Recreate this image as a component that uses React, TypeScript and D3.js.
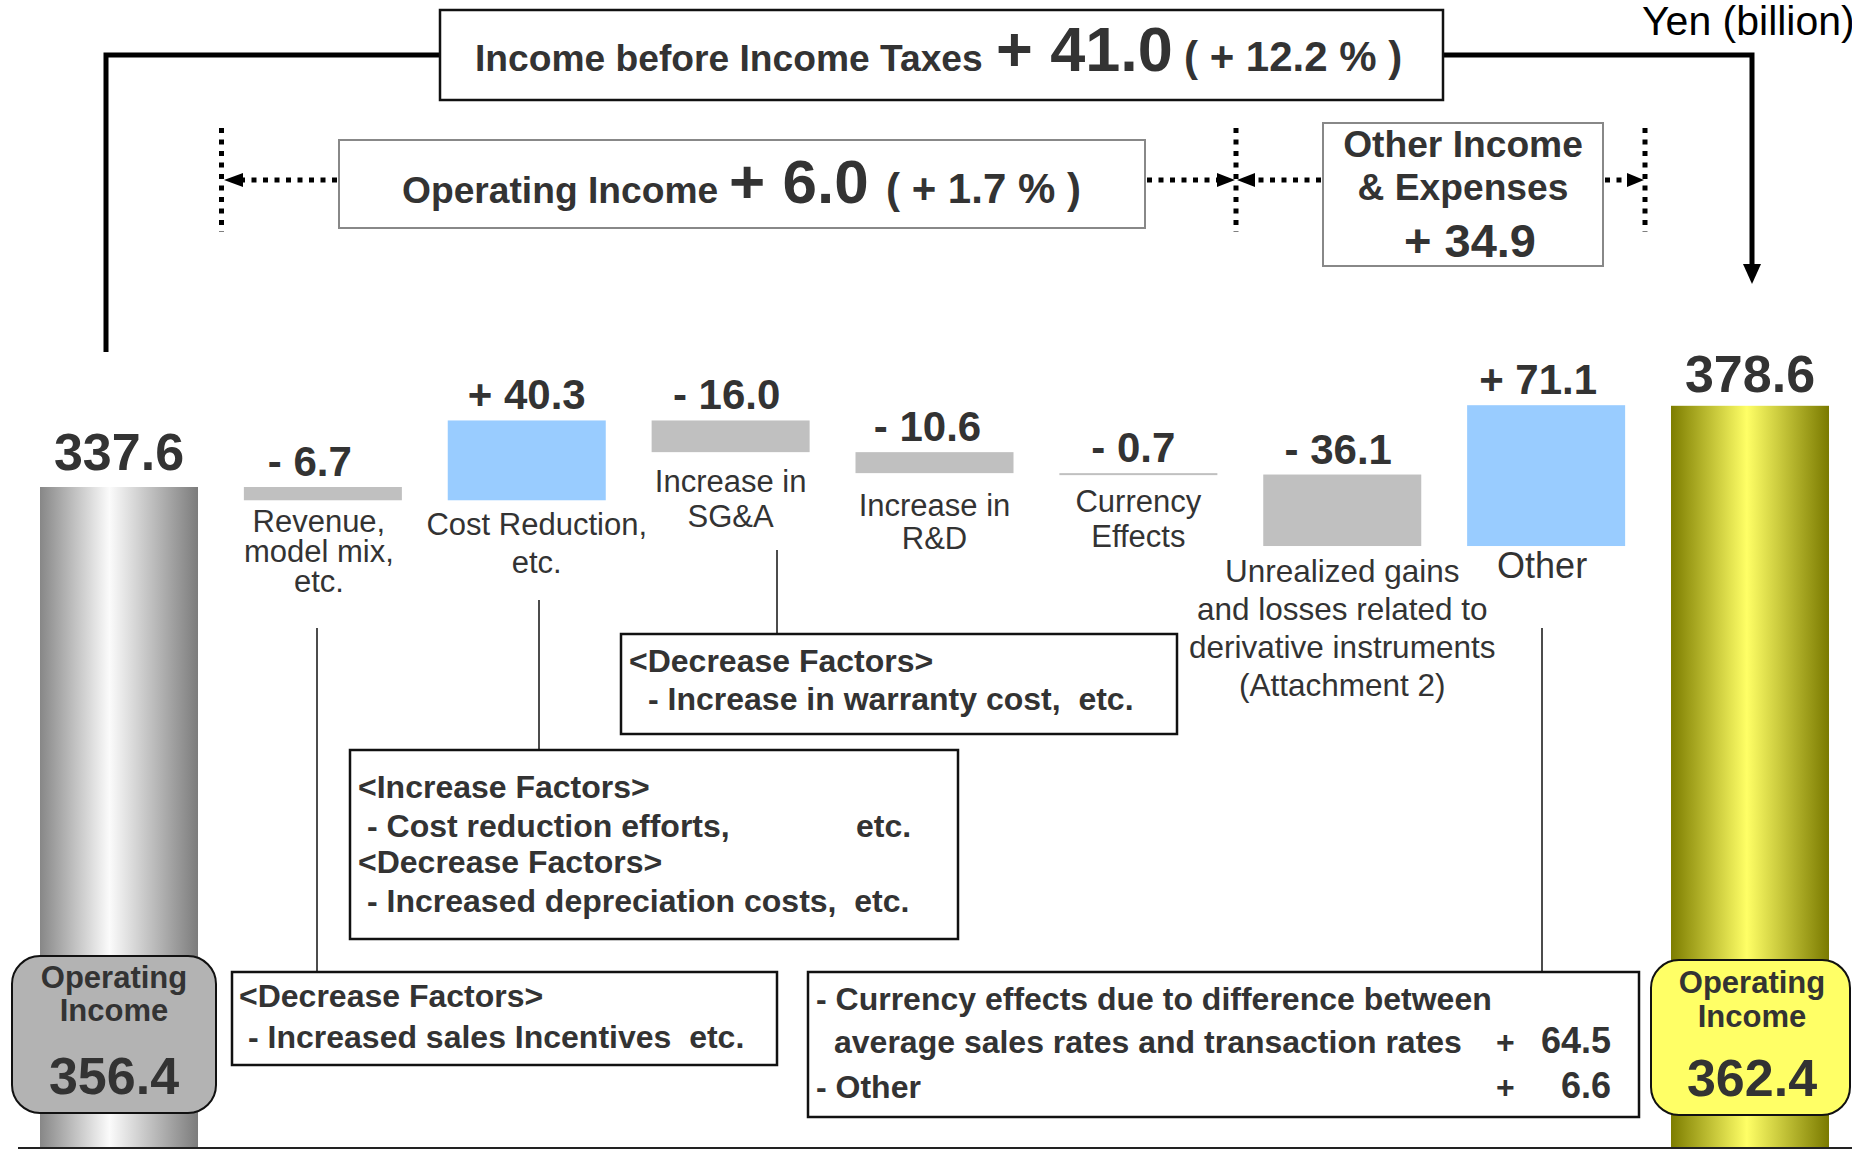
import React from "react";
import * as d3 from "d3";

// values in Yen (billion)
const startValue = 337.6;
const endValue = 378.6;
const changes = [-6.7, 40.3, -16.0, -10.6, -0.7, -36.1, 71.1];
const changeLabels = ["- 6.7", "+ 40.3", "- 16.0", "- 10.6", "- 0.7", "- 36.1", "+ 71.1"];
const categoryLines = [
  ["Revenue,", "model mix,", "etc."],
  ["Cost Reduction,", "etc."],
  ["Increase in", "SG&A"],
  ["Increase in", "R&D"],
  ["Currency", "Effects"],
  ["Unrealized gains", "and losses related to", "derivative instruments", "(Attachment 2)"],
  ["Other"],
];
const startBoxValue = "356.4";
const endBoxValue = "362.4";
const otherBreakdown = [
  { text: ["- Currency effects due to difference between", "average sales rates and transaction rates"], value: "64.5" },
  { text: ["- Other"], value: "6.6" },
];

// label layout (offset under bar, line gap, x shift)
const labelLayout = [
  { dy: 32, gap: 30, dx: -4, vdx: -13, size: 31 },
  { dy: 35, gap: 38, dx: 10, vdx: 0, size: 31 },
  { dy: 40, gap: 35, dx: 0, vdx: -4, size: 31 },
  { dy: 43, gap: 33, dx: 0, vdx: -7, size: 31 },
  { dy: 37, gap: 35, dx: 0, vdx: -5, size: 31 },
  { dy: 36, gap: 38, dx: 0, vdx: -4, size: 31.5 },
  { dy: 32, gap: 0, dx: -4, vdx: -8, size: 36 },
];

const W = 1852;
const H = 1150;
const FONT = "'Liberation Sans', Arial, sans-serif";
const INK = "#333";
const floorY = 1148;
const NB = "\u00a0";

export default function App() {
  const x = d3
    .scaleBand<number>()
    .domain(d3.range(changes.length + 2))
    .range([40, 1829])
    .paddingInner(0.225)
    .paddingOuter(0);
  const y = d3.scaleLinear().domain([startValue, endValue]).range([487, 405.8]);
  const bw = x.bandwidth();

  let running = startValue;
  const steps = changes.map((c, i) => {
    const from = running;
    running = running + c;
    return { i: i + 1, from, to: running, c };
  });

  const cx = (i: number) => (x(i) as number) + bw / 2;
  const dotted = { stroke: "#000", strokeWidth: 5, strokeDasharray: "5,6.5" };

  const bold = (size: number) => ({ fontFamily: FONT, fontWeight: 700, fontSize: size, fill: INK });

  return (
    <svg width={W} height={H} style={{ position: "absolute", left: 0, top: 0, background: "#fff" }}>
      <defs>
        <linearGradient id="grayPillar" x1="0" x2="1" y1="0" y2="0">
          <stop offset="0" stopColor="#878787" />
          <stop offset="0.44" stopColor="#fbfbfb" />
          <stop offset="1" stopColor="#7c7c7c" />
        </linearGradient>
        <linearGradient id="yellowPillar" x1="0" x2="1" y1="0" y2="0">
          <stop offset="0" stopColor="#7d7d00" />
          <stop offset="0.48" stopColor="#ffff66" />
          <stop offset="1" stopColor="#7a7a00" />
        </linearGradient>
      </defs>

      {/* heavy connector: income before income taxes */}
      <path d="M106,352 V55 H440" fill="none" stroke="#000" strokeWidth={5} />
      <path d="M1443,55 H1752 V266" fill="none" stroke="#000" strokeWidth={5} />
      <polygon points="1743,264 1761,264 1752,284" fill="#000" />

      <rect x={440} y={10} width={1003} height={90} fill="#fff" stroke="#111" strokeWidth={2.5} />
      <text x={475} y={71} style={bold(37.2)}>Income before Income Taxes</text>
      <text x={996} y={71} style={bold(63)}>+ 41.0</text>
      <text x={1184} y={71} style={bold(42)}>( + 12.2 % )</text>

      <text x={1642} y={35} style={{ fontFamily: FONT, fontSize: 41, fill: "#000" }}>Yen (billion)</text>

      {/* dotted brackets */}
      <line x1={221.5} x2={221.5} y1={128} y2={232} {...dotted} />
      <line x1={1236} x2={1236} y1={128} y2={232} {...dotted} />
      <line x1={1645} x2={1645} y1={128} y2={232} {...dotted} />
      <line x1={337} x2={240} y1={180} y2={180} {...dotted} />
      <polygon points="224,180 243,173 243,187" fill="#000" />
      <line x1={1147} x2={1220} y1={180} y2={180} {...dotted} />
      <polygon points="1235,180 1217,173 1217,187" fill="#000" />
      <line x1={1321} x2={1253} y1={180} y2={180} {...dotted} />
      <polygon points="1237,180 1255,173 1255,187" fill="#000" />
      <line x1={1605} x2={1628} y1={180} y2={180} {...dotted} />
      <polygon points="1644,180 1627,173 1627,187" fill="#000" />

      <rect x={339} y={140} width={806} height={88} fill="#fff" stroke="#888" strokeWidth={2} />
      <text x={402} y={203} style={bold(37.2)}>Operating Income</text>
      <text x={729} y={203} style={bold(62)}>+ 6.0</text>
      <text x={886} y={203} style={bold(42)}>( + 1.7 % )</text>

      <rect x={1323} y={123} width={280} height={143} fill="#fff" stroke="#888" strokeWidth={2} />
      <text x={1463} y={157} textAnchor="middle" style={bold(37.2)}>Other Income</text>
      <text x={1463} y={200} textAnchor="middle" style={bold(37.2)}>& Expenses</text>
      <text x={1470} y={257} textAnchor="middle" style={bold(47)}>+ 34.9</text>

      {/* pillars */}
      <rect x={x(0)} y={y(startValue)} width={bw} height={floorY - y(startValue)} fill="url(#grayPillar)" />
      <rect
        x={x(changes.length + 1)}
        y={y(endValue)}
        width={bw}
        height={floorY - y(endValue)}
        fill="url(#yellowPillar)"
      />
      <text x={cx(0)} y={y(startValue) - 17} textAnchor="middle" style={bold(52)}>
        {startValue.toFixed(1)}
      </text>
      <text x={cx(changes.length + 1)} y={y(endValue) - 14} textAnchor="middle" style={bold(52)}>
        {endValue.toFixed(1)}
      </text>

      {/* waterfall steps */}
      {steps.map((s, k) => {
        const top = y(Math.max(s.from, s.to));
        const bottom = y(Math.min(s.from, s.to));
        const h = Math.max(2, bottom - top);
        const lay = labelLayout[k];
        return (
          <g key={k}>
            <rect x={x(s.i)} y={top} width={bw} height={h} fill={s.c > 0 ? "#99ccff" : "#c0c0c0"} />
            <text x={cx(s.i) + lay.vdx} y={top - 11} textAnchor="middle" style={bold(42)}>
              {changeLabels[k]}
            </text>
            {categoryLines[k].map((ln, j) => (
              <text
                key={j}
                x={cx(s.i) + lay.dx}
                y={top + h + lay.dy + j * lay.gap}
                textAnchor="middle"
                style={{ fontFamily: FONT, fontSize: lay.size, fill: INK }}
              >
                {ln}
              </text>
            ))}
          </g>
        );
      })}

      {/* thin connectors */}
      <g stroke="#111" strokeWidth={1.5}>
        <line x1={317} x2={317} y1={628} y2={972} />
        <line x1={539} x2={539} y1={600} y2={750} />
        <line x1={777} x2={777} y1={550} y2={634} />
        <line x1={1542} x2={1542} y1={628} y2={972} />
      </g>

      {/* factor boxes */}
      <rect x={621} y={634} width={556} height={100} fill="#fff" stroke="#111" strokeWidth={2.5} />
      <text x={629} y={672} style={bold(32)}>{"<Decrease Factors>"}</text>
      <text x={648} y={710} style={bold(32)}>{`- Increase in warranty cost,${NB} etc.`}</text>

      <rect x={350} y={750} width={608} height={189} fill="#fff" stroke="#111" strokeWidth={2.5} />
      <text x={358} y={798} style={bold(32)}>{"<Increase Factors>"}</text>
      <text x={367} y={837} style={bold(32)}>{"- Cost reduction efforts,"}</text>
      <text x={856} y={837} style={bold(32)}>etc.</text>
      <text x={358} y={873} style={bold(32)}>{"<Decrease Factors>"}</text>
      <text x={367} y={912} style={bold(32)}>{`- Increased depreciation costs,${NB} etc.`}</text>

      <rect x={232} y={972} width={545} height={93} fill="#fff" stroke="#111" strokeWidth={2.5} />
      <text x={239} y={1007} style={bold(32)}>{"<Decrease Factors>"}</text>
      <text x={248} y={1048} style={bold(32)}>{`- Increased sales Incentives${NB} etc.`}</text>

      <rect x={808} y={972} width={831} height={145} fill="#fff" stroke="#111" strokeWidth={2.5} />
      <text x={816} y={1010} style={bold(32)}>{otherBreakdown[0].text[0]}</text>
      <text x={834} y={1053} style={bold(32)}>{otherBreakdown[0].text[1]}</text>
      <text x={1496} y={1053} style={bold(32)}>+</text>
      <text x={1611} y={1053} textAnchor="end" style={bold(36)}>{otherBreakdown[0].value}</text>
      <text x={816} y={1098} style={bold(32)}>{otherBreakdown[1].text[0]}</text>
      <text x={1496} y={1098} style={bold(32)}>+</text>
      <text x={1611} y={1098} textAnchor="end" style={bold(36)}>{otherBreakdown[1].value}</text>

      {/* operating income badges */}
      <rect x={12} y={956} width={204} height={157} rx={28} fill="#b3b3b3" stroke="#111" strokeWidth={2} />
      <text x={114} y={988} textAnchor="middle" style={bold(31)}>Operating</text>
      <text x={114} y={1021} textAnchor="middle" style={bold(31)}>Income</text>
      <text x={114} y={1094} textAnchor="middle" style={bold(52)}>{startBoxValue}</text>

      <rect x={1651} y={960} width={199} height={155} rx={28} fill="#ffff66" stroke="#111" strokeWidth={2} />
      <text x={1752} y={993} textAnchor="middle" style={bold(31)}>Operating</text>
      <text x={1752} y={1027} textAnchor="middle" style={bold(31)}>Income</text>
      <text x={1752} y={1096} textAnchor="middle" style={bold(52)}>{endBoxValue}</text>

      <line x1={18} x2={W} y1={floorY} y2={floorY} stroke="#222" strokeWidth={2} />
    </svg>
  );
}
